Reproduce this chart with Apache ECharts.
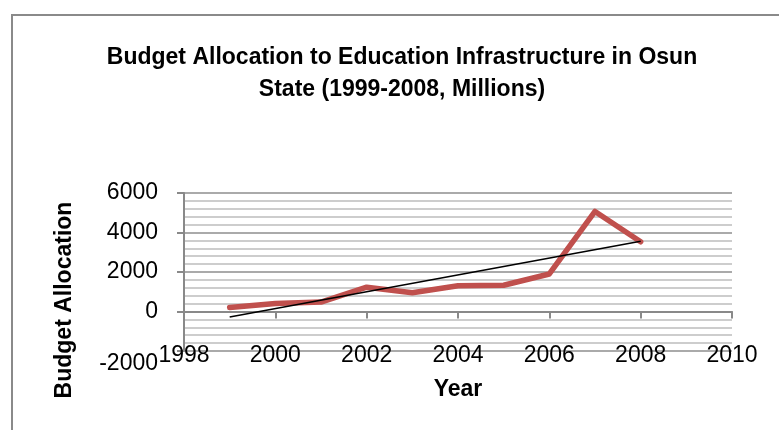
<!DOCTYPE html>
<html>
<head>
<meta charset="utf-8">
<script src="https://cdn.jsdelivr.net/npm/echarts@6/dist/echarts.min.js"></script>
<style>
    html, body { margin: 0; padding: 0; background: #fff; }
    #chart { width: 779px; height: 430px; }
</style>
</head>
<body>
<div id="chart"></div>
<script>
// values
const years = [1999, 2000, 2001, 2002, 2003, 2004, 2005, 2006, 2007, 2008];
const allocation = [200, 400, 480, 1230, 950, 1300, 1330, 1900, 5065, 3530];
const yearTicks = [1998, 2000, 2002, 2004, 2006, 2008, 2010];
const allocationTicks = [-2000, 0, 2000, 4000, 6000];

const FONT = '"Liberation Sans", Arial, sans-serif';

// linear trendline (least squares) over the plotted points, like Excel draws it
function trendLine(xs, ys) {
    const n = xs.length;
    const mx = xs.reduce((a, b) => a + b, 0) / n;
    const my = ys.reduce((a, b) => a + b, 0) / n;
    let num = 0, den = 0;
    xs.forEach((x, i) => {
        num += (x - mx) * (ys[i] - my);
        den += (x - mx) * (x - mx);
    });
    const slope = num / den;
    const first = xs[0], last = xs[n - 1];
    return [
        [first, my + slope * (first - mx)],
        [last, my + slope * (last - mx)]
    ];
}

const points = years.map((y, i) => [y, allocation[i]]);

const axisGray = '#898989';

const option = {
    backgroundColor: '#fff',
    animation: false,
    title: {
        text: 'Budget Allocation to Education Infrastructure in Osun\nState (1999-2008, Millions)',
        left: 397,
        textAlign: 'center',
        top: 37,
        textStyle: {
            fontFamily: FONT,
            fontWeight: 'bold',
            fontSize: 23,
            lineHeight: 32,
            color: '#000'
        }
    },
    graphic: [{
        type: 'rect',
        shape: {x: 12, y: 15, width: 820, height: 500},
        style: {fill: null, stroke: '#8a8a8a', lineWidth: 2},
        silent: true
    }],
    grid: {
        left: 184,
        right: 47,
        top: 193,
        bottom: 79,
        containLabel: false
    },
    xAxis: [{
        // axis line crossing at zero with ticks, no labels
        type: 'value',
        min: yearTicks[0],
        max: yearTicks[yearTicks.length - 1],
        interval: 2,
        axisLine: {show: true, onZero: true, lineStyle: {color: axisGray, width: 2}},
        axisTick: {show: true, length: 7, lineStyle: {color: axisGray, width: 2}},
        axisLabel: {show: false},
        splitLine: {show: false}
    }, {
        // labels sitting on the bottom of the plot
        type: 'value',
        position: 'bottom',
        min: yearTicks[0],
        max: yearTicks[yearTicks.length - 1],
        interval: 2,
        axisLine: {show: false, onZero: false},
        axisTick: {show: false},
        splitLine: {show: false},
        axisLabel: {
            margin: -7,
            fontFamily: FONT,
            fontSize: 23,
            color: '#000',
            formatter: v => String(v)
        },
        name: 'Year',
        nameLocation: 'middle',
        nameGap: 27,
        nameTextStyle: {
            fontFamily: FONT,
            fontWeight: 'bold',
            fontSize: 23,
            color: '#000'
        }
    }],
    yAxis: {
        type: 'value',
        min: allocationTicks[0],
        max: allocationTicks[allocationTicks.length - 1],
        interval: 2000,
        axisLine: {show: true, lineStyle: {color: axisGray, width: 2}},
        axisTick: {show: true, length: 7, lineStyle: {color: axisGray, width: 2}},
        minorTick: {show: false, splitNumber: 5},
        axisLabel: {
            margin: 26,
            fontFamily: FONT,
            fontSize: 23,
            color: '#000',
            formatter: v => v === allocationTicks[0] ? '{low|' + v + '}' : String(v),
            rich: {
                low: {fontFamily: FONT, fontSize: 23, color: '#000', padding: [26, 0, 0, 0]}
            }
        },
        splitLine: {show: true, lineStyle: {color: '#8e8e8e', width: 1.5}},
        minorSplitLine: {show: true, lineStyle: {color: '#bdbdbd', width: 1.5}},
        name: 'Budget Allocation',
        nameLocation: 'middle',
        nameGap: 108,
        nameTextStyle: {
            fontFamily: FONT,
            fontWeight: 'bold',
            fontSize: 23,
            color: '#000',
            padding: [0, 56, 0, 0]
        }
    },
    series: [{
        name: 'Allocation',
        type: 'line',
        xAxisIndex: 0,
        data: points,
        showSymbol: false,
        lineStyle: {color: '#C0504D', width: 5.5, cap: 'round', join: 'round'},
        itemStyle: {color: '#C0504D'},
        z: 3
    }, {
        name: 'Linear trend',
        type: 'line',
        xAxisIndex: 0,
        data: trendLine(years, allocation),
        showSymbol: false,
        lineStyle: {color: '#000', width: 1.5},
        z: 4
    }]
};

const myChart = echarts.init(document.getElementById('chart'), null, {renderer: 'canvas'});
myChart.setOption(option);
</script>
</body>
</html>
